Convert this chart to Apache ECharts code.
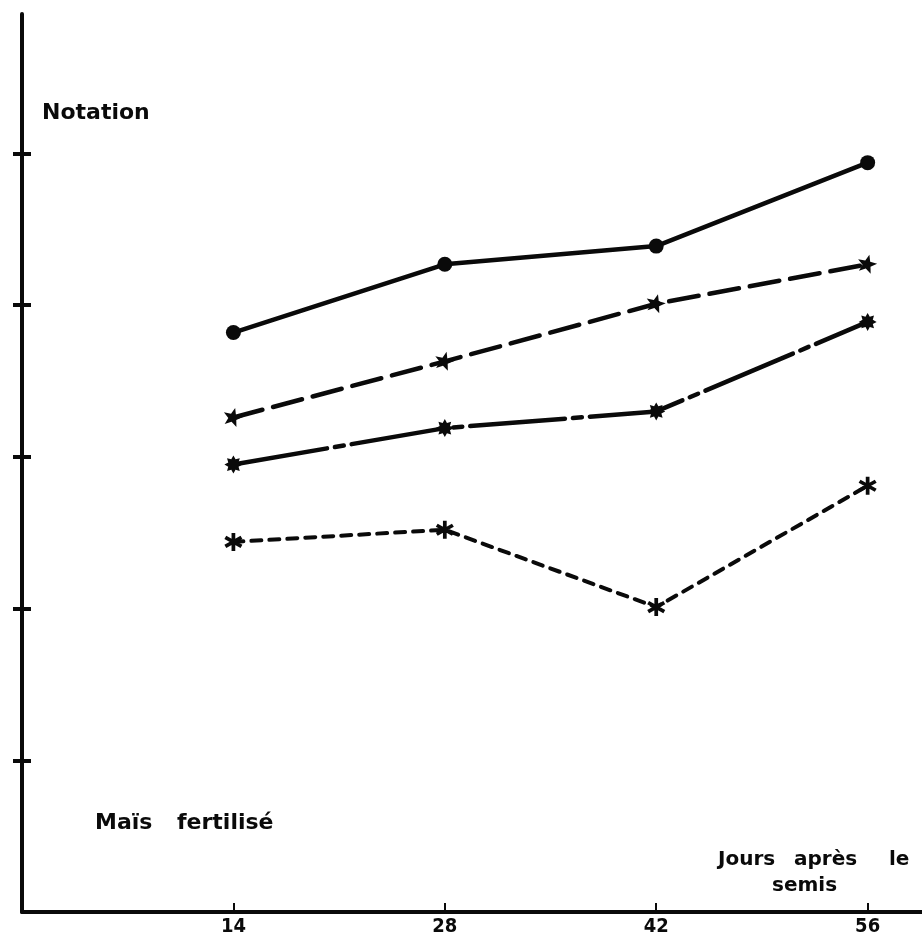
<!DOCTYPE html>
<html>
<head>
<meta charset="utf-8">
<script src="https://cdn.jsdelivr.net/npm/echarts@6/dist/echarts.min.js"></script>
<style>
  html, body { margin: 0; padding: 0; background: #fff; }
  #chart { width: 922px; height: 938px; }
</style>
</head>
<body>
<div id="chart"></div>
<script>
// ---- data ----
var days = [14, 28, 42, 56];
var xTicks = [14, 28, 42, 56];
var yTicks = [1, 2, 3, 4, 5];
var serieRond = [3.82, 4.27, 4.39, 4.94];
var serieEtoile = [3.26, 3.63, 4.01, 4.27];
var serieEtoile8 = [2.95, 3.19, 3.30, 3.89];
var serieAsterisque = [2.44, 2.52, 2.01, 2.81];

function pairs(vals) { return days.map(function (d, i) { return [d, vals[i]]; }); }

function starPath(n, rIn, rot) {
  var s = '';
  for (var i = 0; i < 2 * n; i++) {
    var r = (i % 2 === 0) ? 1 : rIn;
    var a = rot + Math.PI * i / n;
    var x = (r * Math.cos(a)).toFixed(3), y = (r * Math.sin(a)).toFixed(3);
    s += (i === 0 ? 'M' : 'L') + x + ' ' + y + ' ';
  }
  return 'path://' + s + 'Z';
}
function asteriskPath() {
  var s = '', hw = 0.2;
  [90, 30, -30].forEach(function (deg) {
    var a = deg * Math.PI / 180, c = Math.cos(a), sn = Math.sin(a);
    var px = -sn * hw, py = c * hw;
    var pts = [[c + px, sn + py], [-c + px, -sn + py], [-c - px, -sn - py], [c - px, sn - py]];
    s += 'M' + pts.map(function (p) { return p[0].toFixed(3) + ' ' + p[1].toFixed(3); }).join(' L') + ' Z ';
  });
  return 'path://' + s;
}

var black = '#0a0a0a';
var txtFont = '"DejaVu Sans", sans-serif';
var chart = echarts.init(document.getElementById('chart'));
chart.setOption({
  backgroundColor: '#ffffff',
  animation: false,
  grid: { left: 22, right: 0, top: 14, bottom: 26, containLabel: false },
  xAxis: {
    type: 'value', min: 0, max: 59.6,
    axisLine: { show: true, onZero: false, lineStyle: { color: black, width: 4 } },
    axisTick: { show: true, inside: true, length: 9, customValues: xTicks, lineStyle: { color: black, width: 2 } },
    axisLabel: { show: true, customValues: xTicks, margin: 5, color: black, fontSize: 20, fontWeight: 'bold',
      fontFamily: '"DejaVu Sans Condensed", "Liberation Sans Narrow", "DejaVu Sans", sans-serif' },
    splitLine: { show: false }
  },
  yAxis: [{
    type: 'value', min: 0, max: 5.92,
    axisLine: { show: true, lineStyle: { color: black, width: 4 } },
    axisTick: { show: true, inside: true, length: 9, customValues: yTicks, lineStyle: { color: black, width: 4 } },
    axisLabel: { show: false },
    splitLine: { show: false }
  }, {
    type: 'value', min: 0, max: 5.92, position: 'left',
    axisLine: { show: false },
    axisTick: { show: true, inside: false, length: 9, customValues: yTicks, lineStyle: { color: black, width: 4 } },
    axisLabel: { show: false },
    splitLine: { show: false }
  }],
  series: [{
    type: 'line', data: pairs(serieRond), symbol: 'circle', symbolSize: 15,
    itemStyle: { color: black }, lineStyle: { color: black, width: 4.5, type: 'solid' }
  }, {
    type: 'line', data: pairs(serieEtoile), symbol: starPath(5, 0.42, -Math.PI / 2 + 0.25), symbolSize: 19,
    itemStyle: { color: black }, lineStyle: { color: black, width: 4.5, type: [30, 11], cap: 'round' }
  }, {
    type: 'line', data: pairs(serieEtoile8), symbol: starPath(8, 0.62, 0), symbolSize: 18,
    itemStyle: { color: black }, lineStyle: { color: black, width: 4.5, type: [95, 8, 9, 8], cap: 'round' }
  }, {
    type: 'line', data: pairs(serieAsterisque), symbol: asteriskPath(), symbolSize: 18,
    itemStyle: { color: black }, lineStyle: { color: black, width: 4, type: [10, 8], cap: 'round' }
  }],
  graphic: [
    { type: 'text', left: 42, top: 102, style: { text: 'Notation', fill: black, fontSize: 22, fontWeight: 'bold', fontFamily: txtFont } },
    { type: 'text', left: 95, top: 812, style: { text: 'Maïs', fill: black, fontSize: 22, fontWeight: 'bold', fontFamily: txtFont } },
    { type: 'text', left: 177, top: 812, style: { text: 'fertilisé', fill: black, fontSize: 22, fontWeight: 'bold', fontFamily: txtFont } },
    { type: 'text', left: 718, top: 850, style: { text: 'Jours', fill: black, fontSize: 20, fontWeight: 'bold', fontFamily: txtFont } },
    { type: 'text', left: 794, top: 850, style: { text: 'après', fill: black, fontSize: 20, fontWeight: 'bold', fontFamily: txtFont } },
    { type: 'text', left: 889, top: 850, style: { text: 'le', fill: black, fontSize: 20, fontWeight: 'bold', fontFamily: txtFont } },
    { type: 'text', left: 772, top: 876, style: { text: 'semis', fill: black, fontSize: 20, fontWeight: 'bold', fontFamily: txtFont } }
  ]
});
</script>
</body>
</html>
